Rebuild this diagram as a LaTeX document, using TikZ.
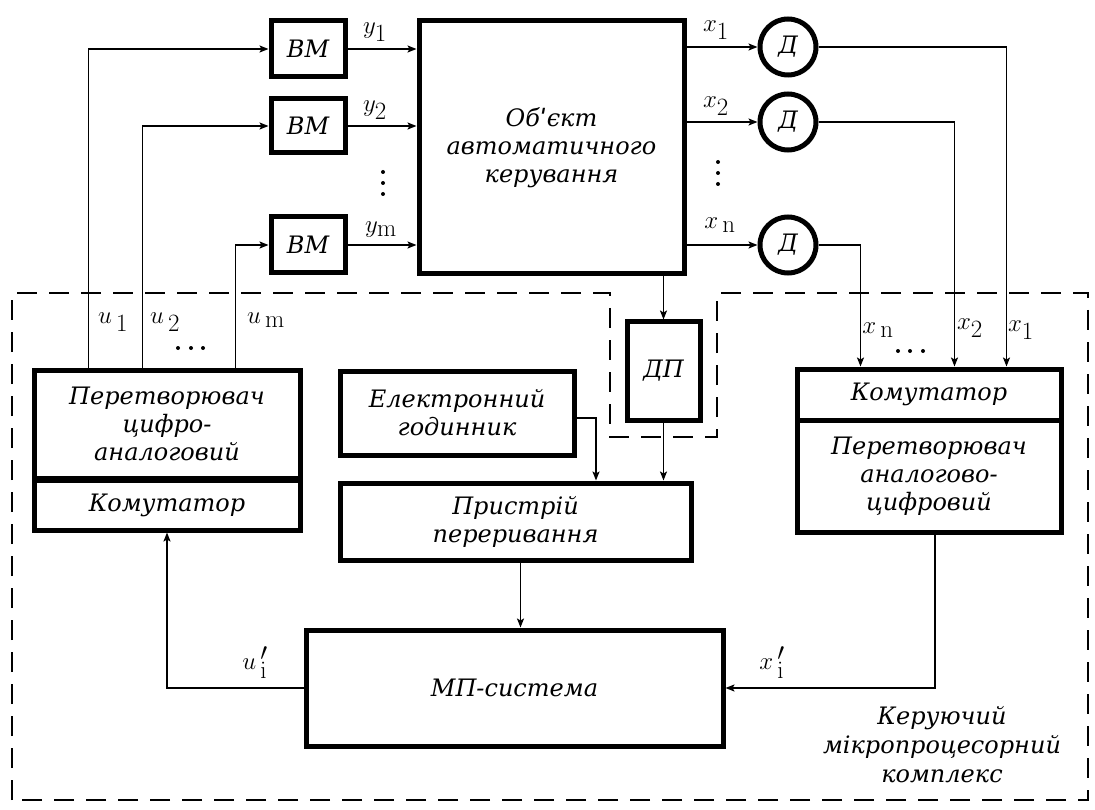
\documentclass[tikz,border=0pt]{standalone}
\usepackage[no-math]{fontspec}
\setmainfont{DejaVu Serif}
\usetikzlibrary{arrows.meta}
\DeclareMathSizes{28}{28}{23}{17}
\begin{document}
\begin{tikzpicture}[x=1pt,y=-1pt,
  blk/.style={draw,line width=5pt,rectangle,inner sep=0pt,align=center,
    font=\fontsize{24}{28}\selectfont\itshape},
  dcirc/.style={draw,line width=5pt,circle,minimum size=56pt,inner sep=0pt,
    font=\fontsize{24}{28}\selectfont\itshape},
  arr/.style={line width=1.6pt,-{Stealth[length=9pt,width=7pt,inset=2pt]}},
  lbl/.style={inner sep=0pt,font=\fontsize{28}{28}\selectfont},
  txt/.style={inner sep=0pt,align=center,font=\fontsize{24}{29}\selectfont\itshape},
  dashbox/.style={line width=2pt,dash pattern=on 20pt off 12pt}]
\useasboundingbox (0,0) rectangle (1095,810);
% blocks
\node[blk,minimum width=74pt,minimum height=56pt] (bm1) at (308,49) {ВМ};
\node[blk,minimum width=74pt,minimum height=54pt] (bm2) at (308,126) {ВМ};
\node[blk,minimum width=74pt,minimum height=56pt] (bm3) at (308,245) {ВМ};
\node[blk,minimum width=265pt,minimum height=253pt] (obj) at (551.5,147.5) {Обˈєкт\\автоматичного\\керування};
\node[dcirc] (d1) at (788,47) {Д};
\node[dcirc] (d2) at (788,122) {Д};
\node[dcirc] (d3) at (788,245) {Д};
\node[blk,minimum width=73pt,minimum height=98pt] (dp) at (663.5,371) {ДП};
\node[blk,minimum width=266pt,minimum height=108pt] (dac1) at (167,424) {Перетворювач\\цифро-\\аналоговий};
\node[blk,minimum width=266pt,minimum height=50pt] (dac2) at (167,505) {Комутатор};
\node[blk,minimum width=264pt,minimum height=51pt] (adc1) at (929,394.5) {Комутатор};
\node[blk,minimum width=264pt,minimum height=112pt] (adc2) at (929,476) {Перетворювач\\аналогово-\\цифровий};
\node[blk,minimum width=234pt,minimum height=84pt] (clk) at (457,413) {Електронний\\годинник};
\node[blk,minimum width=351pt,minimum height=77pt] (intr) at (515.5,521.5) {Пристрій\\переривання};
\node[blk,minimum width=417pt,minimum height=116pt] (mp) at (514.5,688) {МП-система};
% dashed border of the control complex
\draw[dashbox] (12,800) -- (12,293) -- (610,293) -- (610,437) -- (717,437) -- (717,293) -- (1088,293) -- (1088,800) -- cycle;
% connectors
\draw[arr] (bm1.east) -- (bm1.east -| obj.west);
\draw[arr] (bm2.east) -- (bm2.east -| obj.west);
\draw[arr] (bm3.east) -- (bm3.east -| obj.west);
\draw[arr] (obj.east |- d1.west) -- (d1.west);
\draw[arr] (obj.east |- d2.west) -- (d2.west);
\draw[arr] (obj.east |- d3.west) -- (d3.west);
\draw[arr] (d1.east) -| ([xshift=212pt]adc1.north west);
\draw[arr] (d2.east) -| ([xshift=160pt]adc1.north west);
\draw[arr] (d3.east) -| ([xshift=66pt]adc1.north west);
\draw[arr] ([xshift=57pt]dac1.north west) |- (bm1.west);
\draw[arr] ([xshift=111pt]dac1.north west) |- (bm2.west);
\draw[arr] ([xshift=204pt]dac1.north west) |- (bm3.west);
\draw[arr] (obj.south -| dp.north) -- (dp.north);
\draw[arr] (dp.south) -- (dp.south |- intr.north);
\draw[arr] ([yshift=-5pt]clk.east) -| ([xshift=80.5pt]intr.north);
\draw[arr] ([xshift=5pt]intr.south) -- ([xshift=5pt]intr.south |- mp.north);
\draw[arr] (mp.west) -| (dac2.south);
\draw[arr] ([xshift=6pt]adc2.south) |- (mp.east);
% labels
\node[lbl] (ly1) at (375,32) {$y_{\mathrm{1}}$};
\node[lbl] (ly2) at (375,110) {$y_{\mathrm{2}}$};
\node[lbl] (lym) at (381,230) {$y_{\mathrm{m}}$};
\node[lbl] (lx1) at (716,30) {$x_{\mathrm{1}}$};
\node[lbl] (lx2) at (716,106) {$x_{\mathrm{2}}$};
\node[lbl] (lxn) at (720,225) {$x_{\,\mathrm{n}}$};
\node[lbl] (rxn) at (878,330) {$x_{\,\mathrm{n}}$};
\node[lbl] (rx2) at (970,328) {$x_{\mathrm{2}}$};
\node[lbl] (rx1) at (1021,330) {$x_{\mathrm{1}}$};
\node[lbl] (lu1) at (113,322) {$u_{\,\mathrm{1}}$};
\node[lbl] (lu2) at (165,322) {$u_{\,\mathrm{2}}$};
\node[lbl] (lum) at (266,320) {$u_{\,\mathrm{m}}$};
\node[lbl] (lui) at (255,663) {$u^{\,\prime}_{\,\mathrm{i}}$};
\node[lbl] (lxi) at (772,663) {$x^{\,\prime}_{\,\mathrm{i}}$};
\node[txt] (cap) at (942,745) {Керуючий\\мікропроцесорний\\комплекс};
% ellipsis dots
\foreach \yy in {172,183,194} \fill (383,\yy) circle (2pt);
\foreach \yy in {162,173,184} \fill (718,\yy) circle (2pt);
\foreach \xx in {178,191,203} \fill (\xx,348) circle (2pt);
\foreach \xx in {898,910,923} \fill (\xx,351) circle (2pt);
\end{tikzpicture}
\end{document}
